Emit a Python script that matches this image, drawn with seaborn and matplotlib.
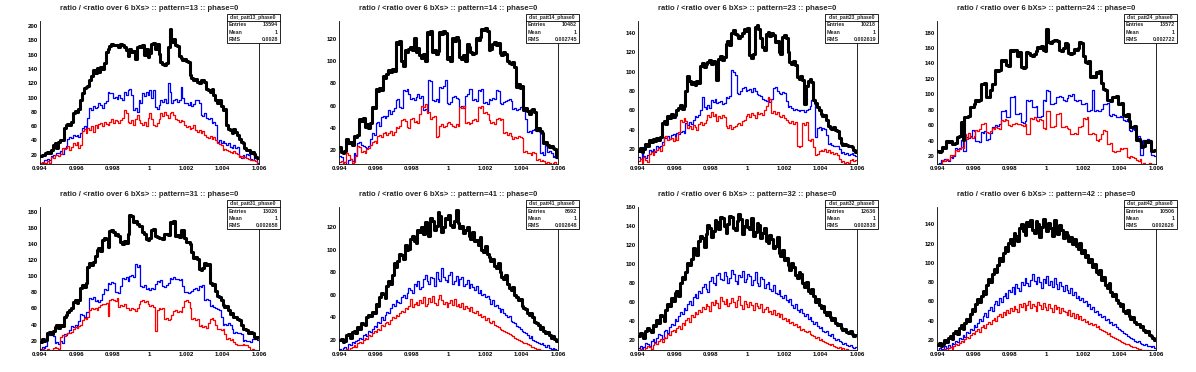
import numpy as np
import pandas as pd
import matplotlib
matplotlib.use("Agg")
import matplotlib.pyplot as plt
import seaborn as sns
from matplotlib.ticker import MultipleLocator, FuncFormatter
from matplotlib.patches import Rectangle

# ---- data (bin contents, 120 bins from 0.994 to 1.006) ----
patterns = [13, 14, 23, 24, 31, 41, 32, 42]
entries = [13594, 10482, 10218, 13572, 13026, 8692, 12636, 10506]
means = [1, 1, 1, 1, 1, 1, 1, 1]
rms = ["0.0028", "0.002745", "0.002619", "0.002722", "0.002658", "0.002648", "0.002838", "0.002626"]

black_13 = [18,20,19,23,24,22,26,33,36,30, 38,41,40,57,62,63,61,66,78,81,
            80,84,96,106,113,114,116,124,130,138, 134,141,136,143,140,148,163,168,172,175,
            174,173,174,171,175,173,170,166,158,168, 163,165,154,170,172,171,173,160,168,157,
            162,175,176,168,175,161,150,147,146,148, 170,196,178,182,174,172,158,155,152,154,
            151,150,132,127,124,126,122,120,125,124, 121,112,110,108,112,104,96,92,97,88,
            82,84,62,56,54,50,56,52,48,42, 38,36,30,27,26,22,24,21,17,16]
blue_13 = [8,9,13,12,14,13,18,20,19,23, 22,25,21,30,32,42,45,44,47,46,
           48,45,50,58,60,57,72,86,82,88, 85,87,92,90,86,93,95,108,106,107,
           100,101,98,104,100,97,108,103,110,112, 104,82,85,80,96,92,106,102,108,104,
           110,100,111,87,84,90,96,94,98,92, 120,108,93,96,98,94,97,115,100,92,
           92,90,94,88,91,96,97,93,76,74, 78,71,70,72,64,66,62,38,40,37,
           39,36,34,37,31,30,33,29,31,18, 16,20,17,21,19,14,12,20,18,8]
red_13 = [8,10,9,8,11,9,17,16,19,20, 18,21,29,28,30,32,27,31,36,33,
          38,30,34,53,56,50,58,55,60,52, 62,58,63,64,60,66,63,62,66,70,
          64,69,67,64,68,72,82,78,66,65, 68,62,70,75,68,64,62,66,60,72,
          78,70,61,60,64,70,78,74,80,76, 72,79,80,76,70,68,66,69,67,62,
          59,60,56,58,61,55,52,54,50,53, 48,45,44,46,42,45,40,36,35,33,
          27,28,26,25,24,22,25,23,21,17, 18,16,17,15,14,13,12,13,11,6]

black_14 = [23,18,17,19,30,26,27,25,33,32, 34,48,46,49,41,43,40,44,59,58,
            75,73,76,74,87,85,88,92,90,93, 91,117,115,118,100,96,110,108,111,113,
            110,121,108,112,105,103,106,100,126,124, 127,108,110,106,109,126,124,127,125,102,
            104,100,121,118,122,119,104,102,105,100, 115,113,108,106,107,121,119,122,129,128,
            130,127,110,111,115,117,114,116,107,105, 108,106,100,98,97,99,95,77,79,76,
            78,56,58,55,52,56,57,54,38,40, 37,35,26,27,25,23,24,22,21,14]
blue_14 = [15,14,8,9,7,11,12,10,17,16, 26,27,25,24,23,22,24,30,35,34,
           44,45,42,50,51,49,51,56,52,55, 58,65,66,59,58,74,73,75,70,66,
           67,65,68,70,67,69,56,57,55,83, 82,65,64,66,63,77,76,78,83,62,
           61,63,68,69,67,66,59,60,58,69, 70,75,75,65,66,64,74,73,75,62,
           63,61,66,65,67,66,74,73,62,61, 63,64,65,66,64,57,58,56,57,59,
           60,58,48,36,37,35,38,39,37,38, 17,18,16,25,18,19,17,14,15,13]
red_14 = [9,10,8,9,17,16,12,8,9,15, 24,23,18,19,17,21,22,25,27,28,
          26,33,34,32,35,36,34,35,37,34, 36,41,40,42,47,48,46,41,40,48,
          49,45,46,44,52,60,59,61,53,54, 48,50,51,32,33,42,43,41,42,44,
          45,43,42,41,43,42,59,58,60,44, 45,43,44,47,48,46,59,58,60,53,
          54,52,47,44,45,43,48,49,47,48, 35,36,34,35,33,30,32,31,33,32,
          31,18,19,17,17,16,18,17,11,12, 10,11,10,8,9,8,7,8,9,6]

black_23 = [18,21,17,20,26,24,30,28,31,29, 32,30,33,47,49,46,54,52,56,53,
            55,60,63,66,62,65,80,95,90,87, 89,86,90,88,106,109,105,108,110,112,
            108,111,109,91,113,116,112,115,128,131, 127,140,143,139,138,135,137,140,144,142,
            145,117,114,118,146,148,144,135,125,122, 139,141,137,140,138,130,131,120,118,136,
            138,135,120,110,108,111,107,94,92,95, 91,67,85,90,92,89,71,68,64,60,
            56,54,55,50,44,42,41,43,40,39, 32,27,25,26,25,23,24,22,19,17]
blue_23 = [12,10,22,13,11,14,19,18,20,17, 23,22,24,28,33,32,34,31,35,36,
           34,37,36,38,39,37,47,45,48,46, 50,54,53,55,60,74,64,62,66,63,
           71,69,72,68,69,70,67,68,74,73, 75,102,100,96,78,77,80,83,84,80,
           81,82,79,83,80,77,76,75,72,71, 70,73,69,72,83,84,80,78,77,79,
           78,70,64,65,63,60,62,61,59,60, 61,58,60,62,65,71,72,33,42,43,
           40,42,41,35,26,27,25,23,24,24, 20,16,17,15,16,14,15,16,14,13]
red_23 = [8,10,6,12,9,7,15,17,14,18, 19,21,18,25,33,34,30,31,32,29,
          33,30,38,50,48,52,49,42,44,41, 45,43,40,46,48,45,47,50,55,53,
          58,54,56,49,54,52,55,53,44,42, 45,41,43,44,46,47,45,49,50,54,
          56,53,57,55,52,58,56,57,55,60, 65,74,72,57,59,56,58,54,53,55,
          52,50,48,47,49,46,48,24,22,23, 47,45,48,30,29,31,22,14,15,18,
          19,18,20,17,19,16,17,15,16,14, 10,7,8,6,7,6,9,10,8,9]

black_24 = [26,25,27,32,31,39,38,40,36,35, 37,45,46,64,41,71,70,72,84,83,
            88,92,91,93,114,113,115,97,96,105, 114,113,131,130,132,144,143,145,138,137,
            157,156,158,157,150,155,135,134,136,155, 154,151,150,152,156,161,160,162,157,156,
            185,168,167,169,170,171,169,157,156,160, 166,165,153,152,154,159,158,160,168,167,
            150,142,141,143,123,124,122,129,128,130, 115,107,106,92,93,91,97,96,98,88,
            87,89,73,72,74,65,58,57,59,41, 42,40,32,33,39,38,40,26,27,28]
blue_24 = [10,11,15,14,16,15,14,19,18,20, 30,29,31,41,26,27,45,44,46,54,
           53,39,40,38,51,50,52,41,42,50, 58,57,60,59,61,79,78,80,71,70,
           97,96,98,75,74,76,64,63,65,92, 91,93,84,83,85,71,70,72,92,91,
           105,104,88,87,89,97,96,98,97,92, 91,95,99,98,100,92,91,93,92,88,
           87,89,79,78,80,105,79,80,78,79, 81,88,87,89,73,72,74,73,71,70,
           72,70,67,66,68,54,53,55,54,45, 46,21,22,41,40,42,41,21,22,20]
red_24 = [9,10,8,15,14,16,15,21,20,22, 28,27,29,32,31,49,42,50,45,44,
          46,54,53,55,62,61,63,51,50,53, 56,55,57,56,55,67,66,68,67,60,
          59,61,62,63,61,62,60,59,61,49, 48,69,68,70,67,66,68,67,56,55,
          79,78,58,57,59,75,74,76,58,57, 59,56,55,49,48,50,49,58,57,59,
          69,68,70,49,48,50,49,41,40,42, 48,54,53,36,35,37,26,25,27,26,
          30,29,31,30,19,18,20,19,18,15, 14,16,10,11,9,10,11,10,10,9]

black_31 = [18,22,19,21,29,31,28,32,37,39, 36,40,38,50,52,55,58,60,68,70,
            67,71,86,89,87,92,112,116,114,118, 125,132,135,131,145,148,146,136,156,158,
            155,151,153,150,143,140,144,141,152,176, 175,167,169,165,162,163,155,153,146,145,
            148,157,159,150,149,147,148,146,152,153, 151,167,166,168,150,151,149,158,157,148,
            142,143,140,130,123,124,122,109,108,110, 116,114,115,91,89,90,82,76,74,70,
            64,62,63,58,53,54,50,49,47,46, 40,34,35,33,30,31,29,24,23,25]
blue_31 = [10,12,11,13,28,27,29,26,17,18, 16,19,17,28,27,29,33,38,37,39,
           36,45,53,52,50,55,56,73,72,74, 69,70,68,71,78,84,83,92,90,93,
           91,80,81,79,88,98,97,99,94,100, 101,99,115,112,114,88,87,89,84,85,
           83,86,84,90,94,93,95,88,87,89, 92,98,97,99,96,96,95,97,88,80,
           81,79,80,82,84,85,83,88,87,89, 71,72,70,63,64,62,60,59,58,50,
           40,41,39,42,40,35,30,31,29,30, 28,20,21,19,20,18,22,22,23,21]
red_31 = [8,10,9,7,10,9,8,11,12,11, 10,25,27,26,28,29,30,31,35,37,
          36,38,40,46,48,47,49,58,60,59, 61,58,62,64,66,65,67,51,70,72,
          71,69,73,62,64,63,65,61,60,58, 60,59,57,61,66,69,70,68,69,65,
          63,64,62,32,58,60,59,61,47,48, 46,47,52,57,58,56,57,55,62,69,
          70,68,60,47,48,46,47,38,39,37, 38,36,42,47,48,46,40,34,35,33,
          34,28,22,23,21,22,18,16,15,14, 15,16,15,14,12,9,10,8,9,7]

black_41 = [20,21,18,19,24,25,22,27,28,26, 31,30,35,34,33,40,42,41,45,44,
            52,50,58,62,61,57,68,72,70,78, 88,85,90,96,95,92,104,100,101,110,
            112,108,106,118,116,120,114,125,124,112, 128,126,118,121,134,130,116,120,128,127,
            131,122,120,126,135,124,119,121,115,118, 120,112,110,116,108,109,104,111,100,98,
            103,96,94,90,92,86,84,88,80,76, 74,78,70,66,64,67,60,58,55,56,
            50,48,47,44,42,44,40,36,35,33, 30,31,28,26,27,24,22,23,21,19]
blue_41 = [12,11,13,14,12,16,15,18,17,19, 20,22,21,24,25,23,28,27,30,32,
           31,36,35,40,38,42,45,44,48,52, 50,55,54,53,58,60,57,62,66,64,
           62,70,68,72,65,67,74,78,72,70, 76,75,68,80,74,72,84,76,73,71,
           78,80,70,72,77,69,74,76,68,70, 73,66,70,67,64,68,62,64,60,61,
           58,59,56,52,55,50,51,48,45,47, 44,42,40,41,37,36,35,32,31,30,
           28,27,26,24,22,23,20,19,18,17, 16,17,15,14,15,13,12,13,12,10]
red_41 = [9,10,8,11,12,11,13,14,15,14, 17,18,17,20,22,21,24,23,26,28,
          27,30,29,33,32,35,36,34,38,40, 39,42,41,44,46,45,48,47,50,56,
          49,52,54,51,55,53,58,50,52,57, 54,59,53,51,56,60,55,52,54,49,
          53,55,51,56,50,52,49,53,47,50, 48,46,49,45,44,46,42,43,40,41,
          38,39,36,35,37,33,32,31,30,29, 28,27,26,25,24,23,22,21,20,19,
          18,17,17,16,15,14,14,13,12,12, 11,11,10,10,9,9,8,8,8,7]

black_32 = [24,27,26,22,29,33,31,28,36,35, 41,38,46,45,40,52,58,56,64,61,
            70,72,66,80,86,84,92,101,99,105, 117,112,110,124,130,127,118,132,141,138,
            128,135,146,144,137,150,148,140,133,142, 151,149,138,136,145,153,147,132,140,146,
            139,137,148,129,134,143,141,127,133,138, 124,122,131,126,117,119,128,112,108,115,
            104,106,99,94,101,97,88,85,92,90, 80,76,81,72,69,74,66,60,63,57,
            54,56,49,46,50,44,41,43,38,36, 37,33,31,32,28,27,29,26,24,25]
blue_32 = [12,14,11,13,17,16,14,19,21,18, 22,26,25,21,29,31,27,34,37,36,
           42,40,45,49,47,54,52,58,61,57, 65,68,64,72,70,76,79,74,71,82,
           86,80,78,88,91,84,83,92,87,80, 85,94,90,82,79,88,86,93,81,84,
           89,87,78,83,92,80,77,86,84,75, 79,81,74,72,78,70,68,73,66,64,
           67,62,60,63,57,54,58,52,50,53, 48,45,47,42,44,40,37,39,35,33,
           34,30,28,29,25,24,26,22,20,21, 19,18,16,17,15,14,15,13,12,13]
red_32 = [9,11,10,8,12,14,13,11,15,17, 16,19,21,18,23,22,26,25,29,31,
          28,33,35,32,38,36,41,43,39,46, 44,49,47,52,50,55,53,58,56,51,
          60,57,62,59,54,65,61,58,63,56, 59,64,60,55,62,66,57,53,61,58,
          55,60,57,52,59,56,54,58,50,53, 55,49,51,47,52,46,48,44,47,42,
          43,40,42,38,39,36,37,34,35,31, 32,30,28,29,26,25,24,22,23,20,
          21,19,18,17,16,15,16,14,13,12, 13,11,12,10,11,10,9,10,9,8]

black_42 = [15,17,14,16,20,18,22,24,21,27, 29,26,32,35,31,38,42,40,47,52,
            50,57,62,59,66,71,68,77,83,80, 88,94,91,98,105,102,110,116,112,121,
            125,119,131,128,123,136,140,133,129,142, 138,145,134,131,143,140,127,137,146,139,
            133,141,136,128,144,137,130,139,134,126, 132,129,123,127,120,125,118,114,121,110,
            113,106,108,101,104,96,99,91,88,93, 82,85,77,74,79,70,66,68,61,58,
            55,57,50,48,51,45,42,44,39,37, 36,33,34,30,28,29,25,24,22,20]
blue_42 = [10,12,9,11,14,12,15,13,17,16, 19,18,22,21,25,23,28,27,31,30,
           35,33,38,42,40,45,48,44,51,54, 50,57,60,56,63,59,66,69,64,72,
           70,75,68,78,74,71,80,77,84,79, 76,82,88,81,78,85,80,74,83,79,
           86,77,81,75,84,78,73,80,76,71, 77,72,69,74,67,70,64,66,61,63,
           59,60,55,57,52,54,49,50,46,47, 44,45,41,42,38,39,35,36,33,31,
           30,29,27,26,24,23,22,21,19,18, 19,17,16,15,16,14,14,13,14,12]
red_42 = [8,9,7,10,11,9,12,13,11,14, 16,15,17,19,18,21,23,22,25,27,
          26,29,31,28,33,35,32,37,39,36, 41,43,40,45,47,44,49,46,51,48,
          53,50,55,52,49,57,54,58,51,56, 60,53,57,55,50,59,56,52,58,54,
          51,57,53,49,56,52,54,48,53,50, 49,46,51,45,48,43,47,42,45,41,
          42,39,40,37,38,35,36,33,34,31, 30,29,28,26,27,24,23,22,21,20,
          19,18,17,16,16,15,14,13,13,12, 11,11,10,10,9,9,9,8,8,7]

blacks = [black_13, black_14, black_23, black_24, black_31, black_41, black_32, black_42]
blues = [blue_13, blue_14, blue_23, blue_24, blue_31, blue_41, blue_32, blue_42]
reds = [red_13, red_14, red_23, red_24, red_31, red_41, red_32, red_42]

# axis ranges of each pad
y_ranges = [(7, 207), (7.5, 136), (5, 152), (9.7, 195), (8.4, 186), (11, 138), (9.5, 160), (9.5, 158)]

edges = np.linspace(0.994, 1.006, 121)
centers = 0.5 * (edges[:-1] + edges[1:])

# ---- figure ----
sns.set_theme(style="white")
plt.rcParams["font.family"] = ["Liberation Sans", "DejaVu Sans"]

W, H = 1196, 372
fig = plt.figure(figsize=(W / 100, H / 100), dpi=100)
fig.patch.set_facecolor("white")

def fx(px):
    return px / W

def fy(py):
    return 1 - py / H

for i in range(8):
    r, c = divmod(i, 4)
    x0, y0 = c * 299, r * 186
    ax = fig.add_axes([fx(x0 + 40), fy(y0 + 164), 219 / W, 143 / H])
    ax.set_facecolor("white")
    df = pd.DataFrame({"x": centers, "black": blacks[i], "blue": blues[i], "red": reds[i]})
    for col, lw in [("blue", 0.9), ("red", 0.9), ("black", 2.2)]:
        sns.histplot(data=df, x="x", weights=col, bins=120, binrange=(0.994, 1.006),
                     element="step", fill=False, color=col, linewidth=lw, ax=ax)
    ax.set_xlim(0.994, 1.006)
    ax.set_ylim(*y_ranges[i])
    ax.set_xlabel("")
    ax.set_ylabel("")
    ax.xaxis.set_major_locator(MultipleLocator(0.002))
    ax.xaxis.set_minor_locator(MultipleLocator(0.0004))
    ax.yaxis.set_major_locator(MultipleLocator(20))
    ax.yaxis.set_minor_locator(MultipleLocator(10))
    ax.xaxis.set_major_formatter(FuncFormatter(lambda v, p: "%g" % round(v, 4)))
    ax.tick_params(which="both", direction="in", top=False, right=False, colors="black",
                   labelsize=4.4, pad=1.5, width=0.6)
    ax.tick_params(which="major", length=3)
    ax.tick_params(which="minor", length=1.5)
    for lab in ax.get_xticklabels() + ax.get_yticklabels():
        lab.set_fontweight("bold")
    for s in ["left", "bottom", "right"]:
        ax.spines[s].set_color("black")
        ax.spines[s].set_linewidth(0.6)
    ax.spines["top"].set_visible(False)

    # pad title
    fig.text(fx(x0 + 149.5), fy(y0 + 9),
             "ratio / <ratio over 6 bXs> :: pattern=%d :: phase=0" % patterns[i],
             ha="center", va="center", fontsize=5.5, fontweight="bold")

    # stats box
    bx0, bx1, by0, by1 = x0 + 227, x0 + 280, y0 + 14, y0 + 43
    fig.add_artist(Rectangle((fx(bx0), fy(by1)), (bx1 - bx0) / W, (by1 - by0) / H,
                             transform=fig.transFigure, facecolor="white",
                             edgecolor="black", linewidth=0.6, zorder=5))
    fig.add_artist(plt.Line2D([fx(bx0), fx(bx1)], [fy(by0 + 7), fy(by0 + 7)],
                              transform=fig.transFigure, color="black", linewidth=0.6, zorder=6))
    fig.text(fx((bx0 + bx1) / 2), fy(by0 + 3.6), "dist_patt%d_phase0" % patterns[i],
             ha="center", va="center", fontsize=3.6, fontweight="bold", zorder=7)
    rows = [("Entries", str(entries[i])), ("Mean", str(means[i])), ("RMS", rms[i])]
    for k, (lab, val) in enumerate(rows):
        yy = fy(by0 + 11 + 7.2 * k)
        fig.text(fx(bx0 + 2), yy, lab, ha="left", va="center", fontsize=3.9,
                 fontweight="bold", zorder=7)
        fig.text(fx(bx1 - 2), yy, val, ha="right", va="center", fontsize=3.9,
                 fontweight="bold", zorder=7)

fig.savefig("out.png", dpi=100, facecolor="white")
